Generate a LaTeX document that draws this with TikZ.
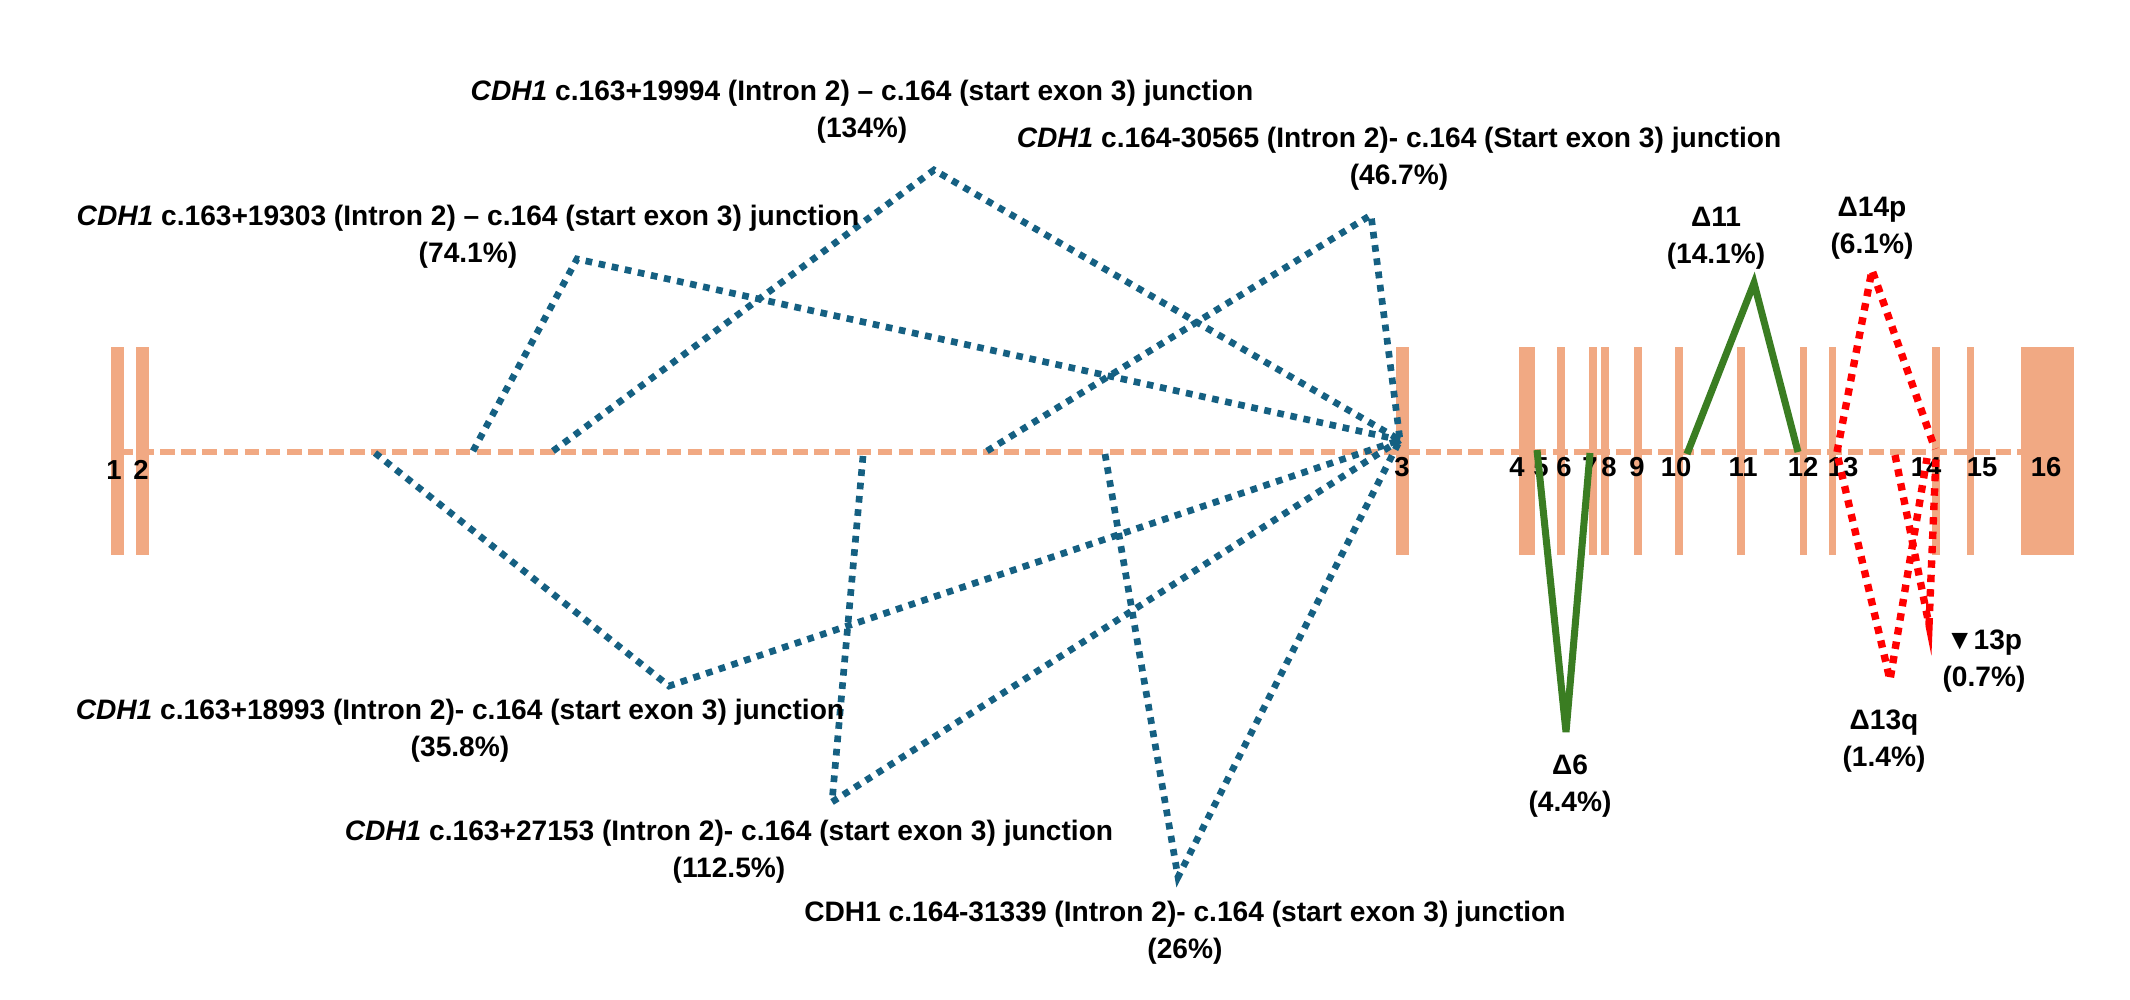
\documentclass[tikz,border=0pt]{standalone}
\usepackage{fontspec}
\setmainfont{Liberation Sans}
\usetikzlibrary{positioning}
\definecolor{exonorange}{RGB}{241,169,131}
\definecolor{juncblue}{RGB}{21,96,130}
\definecolor{skipgreen}{RGB}{58,125,34}

\begin{document}
\begin{tikzpicture}[
        x=0.01cm, y=-0.01cm,
        backbone/.style={draw=exonorange, line width=1.7pt, dash pattern=on 4.2pt off 1.8pt},
        exonbar/.style={fill=exonorange},
        junc/.style={draw=juncblue, line width=1.9pt, dash pattern=on 1.9pt off 1.9pt},
        skip/.style={draw=skipgreen, line width=2pt},
        partial/.style={draw=red, line width=2.1pt, dash pattern=on 2.1pt off 2pt},
        exnum/.style={font=\fontsize{7.8}{9}\selectfont\bfseries, inner sep=0pt},
        lbl/.style={font=\fontsize{8}{10.4}\selectfont\bfseries, align=center, inner sep=0pt}
    ]
        \fill[white] (0,0) rectangle (2130,1000);
        \useasboundingbox (0,0) rectangle (2130,1000);

        % gene backbone and exons
        \draw[backbone] (118,452) -- (2021,452);
        \foreach \n/\l/\r in {1/111/124, 2/136/149, 3/1396/1409, 4/1519/1535, 6/1557/1565,
                7/1589/1597, 8/1601/1609, 9/1634/1642, 10/1675/1683, 11/1737/1745,
                12/1800/1807, 13/1829/1836, 14/1932/1940, 15/1967/1974, 16/2021/2074}
            \fill[exonbar] (\l,347) rectangle (\r,555);
        \foreach \n/\x/\y in {1/114/470, 2/141/470, 3/1402/467, 4/1517/467, 5/1541/467,
                6/1564/467, 7/1590/467, 8/1609/467, 9/1637/467, 10/1676/467, 11/1743/467,
                12/1803/467, 13/1843/467, 14/1926/467, 15/1982/467, 16/2046/467}
            \node[exnum] (num\n) at (\x,\y) {\n};

        % intron 2 junctions to start of exon 3
        \coordinate (acc3) at (1400,440);
        \coordinate (d19303) at (473,451);   \coordinate (v19303) at (577,259);
        \coordinate (d19994) at (553,451);   \coordinate (v19994) at (934,170);
        \coordinate (d30565) at (987,451);   \coordinate (v30565) at (1371,215);
        \coordinate (d18993) at (375,453);   \coordinate (v18993) at (669,686);
        \coordinate (d27153) at (863,456);   \coordinate (v27153) at (832,802);
        \coordinate (d31339) at (1105,454);  \coordinate (v31339) at (1178,877);
        \draw[junc] (d19303) -- (v19303) -- (acc3);
        \draw[junc] (d19994) -- (v19994) -- (acc3);
        \draw[junc] (d30565) -- (v30565) -- (acc3);
        \draw[junc] (d18993) -- (v18993) -- (acc3);
        \draw[junc] (d27153) -- (v27153) -- (acc3);
        \draw[junc] (d31339) -- (v31339) -- (acc3);

        % exon skipping
        \coordinate (e5) at (1537,450);  \coordinate (v6) at (1566,732);   \coordinate (e7) at (1590,453);
        \coordinate (e10) at (1687,454); \coordinate (v11) at (1754,283);  \coordinate (e12) at (1798,452);
        \draw[skip] (e5) -- (v6) -- (e7);
        \draw[skip] (e10) -- (v11) -- (e12);

        % partial exon deletions
        \coordinate (p13) at (1837,452); \coordinate (v14p) at (1872,270); \coordinate (p14) at (1935,449);
        \coordinate (q13) at (1838,458); \coordinate (v13q) at (1890,680); \coordinate (q14) at (1927,458);
        \coordinate (r13) at (1895,455); \coordinate (v13p) at (1929,625); \coordinate (r14) at (1936,456);
        \draw[partial] (p13) -- (v14p) -- (p14);
        \draw[partial] (q13) -- (v13q) -- (q14);
        \draw[partial] (r13) -- (v13p) -- (r14);

        % labels
        \node[lbl] (l19303) at (468,237) {\textit{CDH1} c.163+19303 (Intron 2) – c.164 (start exon 3) junction\\(74.1\%)};
        \node[lbl] (l19994) at (862,112) {\textit{CDH1} c.163+19994 (Intron 2) – c.164 (start exon 3) junction\\(134\%)};
        \node[lbl] (l30565) at (1399,159) {\textit{CDH1} c.164-30565 (Intron 2)- c.164 (Start exon 3) junction\\(46.7\%)};
        \node[lbl] (l18993) at (460,731) {\textit{CDH1} c.163+18993 (Intron 2)- c.164 (start exon 3) junction\\(35.8\%)};
        \node[lbl] (l27153) at (729,852) {\textit{CDH1} c.163+27153 (Intron 2)- c.164 (start exon 3) junction\\(112.5\%)};
        \node[lbl] (l31339) at (1185,933) {CDH1 c.164-31339 (Intron 2)- c.164 (start exon 3) junction\\(26\%)};
        \node[lbl] (l11) at (1716,238) {Δ11\\(14.1\%)};
        \node[lbl] (l14p) at (1872,228) {Δ14p\\(6.1\%)};
        \node[lbl] (l6) at (1570,786) {Δ6\\(4.4\%)};
        \node[lbl] (l13q) at (1884,741) {Δ13q\\(1.4\%)};
        \node[lbl] (l13p) at (1984,661) {▼13p\\(0.7\%)};
    \end{tikzpicture}
\end{document}
